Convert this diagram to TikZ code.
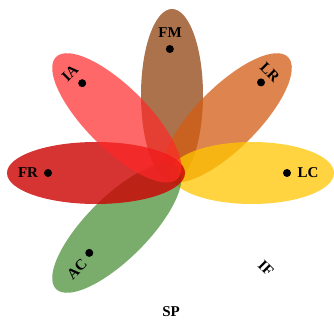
\documentclass[tikz,border=0pt]{standalone}
\usepackage{fontspec}
\setmainfont{Liberation Serif}
\usetikzlibrary{shapes.geometric,calc}

\definecolor{fmcol}{RGB}{143,67,16}
\definecolor{lrcol}{RGB}{211,91,19}
\definecolor{lccol}{RGB}{255,198,0}
\definecolor{accol}{RGB}{78,144,59}
\definecolor{iacol}{RGB}{255,40,40}
\definecolor{frcol}{RGB}{204,0,0}

\tikzset{
  petal/.style={ellipse, draw=none, inner sep=0pt, minimum width=172pt,
    minimum height=62pt, fill opacity=0.75},
  dotmark/.style={circle, fill=black, inner sep=0pt, minimum size=8pt},
  lab/.style={font=\fontsize{15}{15}\selectfont\bfseries, inner sep=0pt}
}

\begin{document}
\begin{tikzpicture}[x=1pt,y=1pt]
\useasboundingbox (0,0) rectangle (334,-320);
\coordinate (c) at (172,-173);

% petals, each rotated about the common centre
\node[petal, fill=fmcol, rotate=90]  (pfm) at ($(c)+(90:78)$) {};
\node[petal, fill=lrcol, rotate=45]  (plr) at ($(c)+(45:78)$) {};
\node[petal, fill=lccol, minimum width=164pt] (plc) at ($(c)+(0:80)$) {};
\node[petal, fill=accol, rotate=225] (pac) at ($(c)+(225:78)$) {};
\node[petal, fill=frcol, minimum width=178pt, fill opacity=0.8] (pfr) at ($(c)+(180:76)$) {};
\node[petal, fill=iacol, rotate=135, fill opacity=0.7] (pia) at ($(c)+(135:78)$) {};

% markers
\node[dotmark] (dfm) at ($(c)+(91:124)$) {};
\node[dotmark] (dlr) at ($(c)+(45.5:127)$) {};
\node[dotmark] (dia) at ($(c)+(135:127)$) {};
\node[dotmark] (dfr) at ($(c)+(180:124)$) {};
\node[dotmark] (dlc) at ($(c)+(0:115)$) {};
\node[dotmark] (dac) at ($(c)+(224:115)$) {};

% labels
\node[lab] (tfm) at (170,-33) {FM};
\node[lab, rotate=45] (tia) at (70,-73) {IA};
\node[lab, rotate=-45] (tlr) at (270,-72) {LR};
\node[lab] (tfr) at (28,-173) {FR};
\node[lab] (tlc) at (308,-173) {LC};
\node[lab, rotate=45] (tac) at (77,-269) {AC};
\node[lab, rotate=-45] (tif) at (266,-268) {IF};
\node[lab] (tsp) at (171,-312) {SP};
\end{tikzpicture}
\end{document}
